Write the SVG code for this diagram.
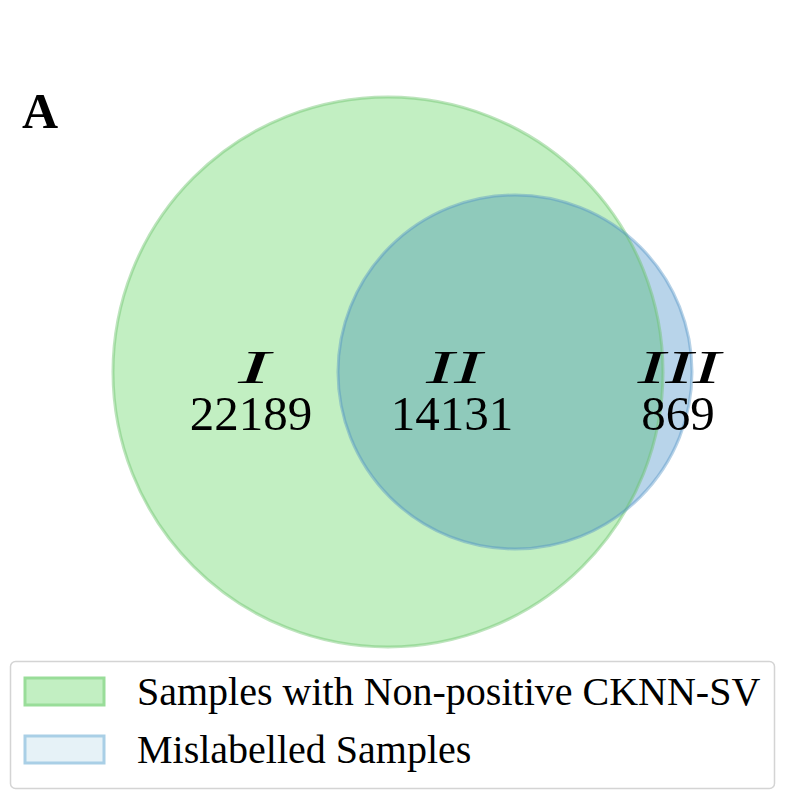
<svg xmlns="http://www.w3.org/2000/svg" width="785" height="800" viewBox="0 0 785 800">
<style>
.lbl{font-family:"Liberation Serif","Times New Roman",serif;font-size:49px;fill:#000;text-anchor:middle}
.rom{font-style:italic;font-size:46px;lengthAdjust:spacingAndGlyphs}
.leg{font-family:"Liberation Serif","Times New Roman",serif;font-size:40px;fill:#000}
</style>
<defs>
<clipPath id="bigclip"><circle cx="388" cy="372" r="275"/></clipPath>
</defs>
<rect width="785" height="800" fill="#fff"/>
<text x="22" y="128" font-family="Liberation Serif,serif" font-weight="bold" font-size="50">A</text>
<g id="set1">
<circle cx="388" cy="372" r="275" fill="#c2efc2"/>
</g>
<g id="set2">
<circle cx="515" cy="372" r="177" fill="#b8d4ea"/>
<circle cx="515" cy="372" r="177" fill="#8fcabb" clip-path="url(#bigclip)"/>
</g>
<g id="outlines" fill="none" stroke-width="3">
<circle cx="388" cy="372" r="275" stroke="#6cc46c" stroke-opacity="0.45"/>
<circle cx="515" cy="372" r="177" stroke="#4b8fc4" stroke-opacity="0.4"/>
</g>
<g id="region1"><text class="lbl rom" x="254" y="383" textLength="32" lengthAdjust="spacingAndGlyphs">I</text><text class="lbl" x="251" y="430">22189</text></g>
<g id="region2"><text class="lbl rom" x="454" y="383" textLength="56" lengthAdjust="spacingAndGlyphs">II</text><text class="lbl" x="452" y="430">14131</text></g>
<g id="region3"><text class="lbl rom" x="679" y="383" textLength="83" lengthAdjust="spacingAndGlyphs">III</text><text class="lbl" x="678" y="430">869</text></g>
<g id="legend">
<rect x="10.5" y="661.5" width="764" height="127" rx="5" fill="#fff" stroke="#d4d4d4" stroke-width="1.5"/>
<rect x="25" y="678" width="79" height="27" fill="#c2efc2" stroke="#99dd99" stroke-width="3"/>
<text class="leg" x="137" y="705">Samples with Non-positive CKNN-SV</text>
<rect x="25" y="736" width="79" height="27" fill="#e6f2f7" stroke="#a9cfe6" stroke-width="3"/>
<text class="leg" x="137" y="763">Mislabelled Samples</text>
</g>
</svg>
